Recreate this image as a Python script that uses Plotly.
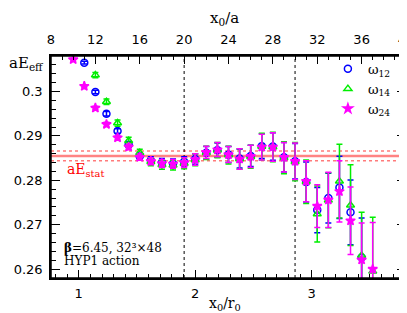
import plotly.graph_objects as go

# ---- data ----
R0_OVER_A = 10.5          # r0/a, relates the two x scales
x0a = list(range(10, 38))  # x0/a

w12 = [None, 0.3065, 0.2999, 0.2950, 0.2911, 0.2880, 0.2854, 0.2845, 0.2840, 0.2838,
       0.2842, 0.2848, 0.2862, 0.2868, 0.2858, 0.2849, 0.2855, 0.2877, 0.2876, 0.2852,
       0.2843, 0.2796, 0.2733, 0.2760, 0.2784, 0.2728, 0.2626, None]
e12 = [None, 0.0003, 0.0004, 0.0005, 0.0005, 0.0006, 0.0007, 0.0008, 0.0009, 0.0010,
       0.0011, 0.0012, 0.0014, 0.0016, 0.0018, 0.0021, 0.0024, 0.0028, 0.0031, 0.0033,
       0.0040, 0.0045, 0.0051, 0.0056, 0.0070, 0.0073, 0.0089, None]

w14 = [None, None, 0.3037, 0.2977, 0.2929, 0.2889, 0.2862, 0.2842, 0.2835, 0.2834,
       0.2838, 0.2846, 0.2862, 0.2868, 0.2857, 0.2848, 0.2853, 0.2876, 0.2875, 0.2851,
       0.2842, 0.2797, 0.2724, 0.2755, 0.2798, 0.2744, 0.2631, 0.2595]
e14 = [None, None, 0.0006, 0.0006, 0.0007, 0.0008, 0.0008, 0.0009, 0.0010, 0.0011,
       0.0012, 0.0013, 0.0015, 0.0017, 0.0020, 0.0023, 0.0026, 0.0030, 0.0033, 0.0036,
       0.0043, 0.0049, 0.0063, 0.0062, 0.0083, 0.0091, 0.0097, 0.0122]

w24 = [0.3072, 0.3012, 0.2963, 0.2926, 0.2896, 0.2875, 0.2852, 0.2843, 0.2838, 0.2837,
       0.2840, 0.2847, 0.2863, 0.2869, 0.2858, 0.2848, 0.2854, 0.2875, 0.2875, 0.2852,
       0.2843, 0.2798, 0.2742, 0.2756, 0.2775, 0.2709, 0.2621, 0.2600]
e24 = [0.0003, 0.0003, 0.0004, 0.0005, 0.0005, 0.0006, 0.0007, 0.0008, 0.0009, 0.0010,
       0.0011, 0.0013, 0.0014, 0.0016, 0.0018, 0.0023, 0.0025, 0.0029, 0.0032, 0.0033,
       0.0041, 0.0046, 0.0048, 0.0062, 0.0069, 0.0076, 0.0083, 0.0105]

E_STAT = 0.2855
E_STAT_ERR = 0.0011
vlines_x0a = [20, 30]
XA_RANGE = [8, 40]
Y_RANGE = [0.258, 0.308]

series = [
    ("ω<sub>12</sub>", w12, e12, "#0000ff", "circle-open", 7),
    ("ω<sub>14</sub>", w14, e14, "#00ee00", "triangle-up-open", 7),
    ("ω<sub>24</sub>", w24, e24, "#ff00ff", "star", 7),
]

fig = go.Figure()
# invisible trace to anchor bottom axis
fig.add_trace(go.Scatter(x=[XA_RANGE[0] / R0_OVER_A], y=[Y_RANGE[0]], mode="markers",
                         marker=dict(opacity=0), showlegend=False, hoverinfo="skip",
                         xaxis="x", yaxis="y"))
for name, vals, errs, col, sym, sz in series:
    fig.add_trace(go.Scatter(
        x=x0a, y=vals, name=name, mode="markers", xaxis="x2", yaxis="y",
        marker=dict(symbol=sym, size=sz, color=col, line=dict(color=col, width=1.5)),
        error_y=dict(type="data", array=errs, visible=True, color=col,
                     thickness=1.5, width=3),
    ))

FONT_T = "DejaVu Sans"
FONT_S = "DejaVu Serif"
tickfont = dict(family=FONT_T, size=13, color="black")

fig.update_layout(
    width=407, height=313,
    margin=dict(l=43, r=9, t=48, b=43, autoexpand=False),
    paper_bgcolor="white", plot_bgcolor="white",
    xaxis=dict(range=[XA_RANGE[0] / R0_OVER_A, XA_RANGE[1] / R0_OVER_A],
               tick0=0, dtick=1, ticks="inside", ticklen=8, tickwidth=1, tickcolor="black",
               minor=dict(dtick=0.1, tick0=0, ticks="inside", ticklen=4, tickcolor="black"),
               showline=True, linecolor="black", linewidth=1.5, showgrid=False,
               zeroline=False, tickfont=tickfont, ticklabelstandoff=3),
    xaxis2=dict(range=XA_RANGE, overlaying="x", side="top", anchor="y",
                tick0=0, dtick=4, ticks="inside", ticklen=8, tickwidth=1, tickcolor="black",
                minor=dict(dtick=1, tick0=0, ticks="inside", ticklen=4, tickcolor="black"),
                showline=True, linecolor="black", linewidth=1.5, showgrid=False,
                zeroline=False, tickfont=tickfont, ticklabelstandoff=5),
    yaxis=dict(range=Y_RANGE, tick0=0, dtick=0.01, ticks="inside", ticklen=9, tickwidth=1,
               tickcolor="black", mirror="ticks",
               minor=dict(dtick=0.002, tick0=0, ticks="inside", ticklen=5, tickcolor="black"),
               showline=True, linecolor="black", linewidth=1.5, showgrid=False,
               zeroline=False, tickfont=tickfont, ticklabelstandoff=4),
    legend=dict(x=0.78, y=1.01, xanchor="left", yanchor="top", bgcolor="rgba(0,0,0,0)",
                font=dict(family=FONT_S, size=13, color="black"), tracegroupgap=0),
)

# frame
fig.add_shape(type="rect", xref="x domain", yref="y domain", x0=0, x1=1, y0=0, y1=1,
              line=dict(color="black", width=1.5), layer="above")
# horizontal static energy band
fig.add_shape(type="line", xref="x domain", yref="y", x0=0, x1=1, y0=E_STAT, y1=E_STAT,
              line=dict(color="rgba(255,90,90,0.75)", width=2.5), layer="below")
for s in (-1, 1):
    yv = E_STAT + s * E_STAT_ERR
    fig.add_shape(type="line", xref="x domain", yref="y", x0=0, x1=1, y0=yv, y1=yv,
                  line=dict(color="rgba(255,90,90,0.8)", width=1.5, dash="dot"), layer="below")
for xv in vlines_x0a:
    fig.add_shape(type="line", xref="x2", yref="y domain", x0=xv, x1=xv, y0=0, y1=1,
                  line=dict(color="black", width=1, dash="dot"), layer="below")

ann = [
    dict(text="x<sub>0</sub>/a", x=0.49, y=1.0, xref="paper", yref="paper",
         yanchor="middle", yshift=38, showarrow=False,
         font=dict(family=FONT_S, size=15, color="black")),
    dict(text="x<sub>0</sub>/r<sub>0</sub>", x=0.49, y=0, xref="paper", yref="paper",
         yanchor="bottom", yshift=-37, showarrow=False,
         font=dict(family=FONT_S, size=14, color="black")),
    dict(text="aE<sub>eff</sub>", x=0, y=0.965, xref="paper", yref="paper", xanchor="left",
         yanchor="middle", xshift=-44, showarrow=False,
         font=dict(family=FONT_S, size=15, color="black")),
    dict(text="aE<sub>stat</sub>", x=0.04, y=E_STAT - 0.0031, xref="paper", yref="y",
         xanchor="left", yanchor="middle", showarrow=False,
         font=dict(family=FONT_S, size=14, color="#ff0000")),
    dict(text="<b>β</b>=6.45, 32³×48", x=0.03, y=0.135, xref="paper", yref="paper",
         xanchor="left", yanchor="middle", showarrow=False,
         font=dict(family=FONT_S, size=12, color="black")),
    dict(text="HYP1 action", x=0.03, y=0.075, xref="paper", yref="paper",
         xanchor="left", yanchor="middle", showarrow=False,
         font=dict(family=FONT_S, size=12, color="black")),
]
fig.update_layout(annotations=ann)

fig.write_html("out.html")
